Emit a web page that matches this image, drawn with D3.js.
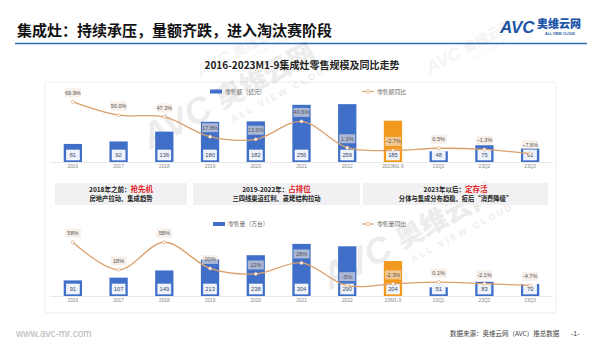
<!DOCTYPE html>
<html><head><meta charset="utf-8">
<script src="https://cdn.jsdelivr.net/npm/d3@7"></script>
<style>
html,body{margin:0;padding:0;background:#fff;}
svg{display:block;font-family:"Noto Sans CJK SC","Noto Sans",sans-serif;}
</style></head>
<body><svg id="c" width="600" height="358"></svg>
<script>
const categoriesTop = ["2016","2017","2018","2019","2020","2021","2022","2023M1-9","23Q1","23Q2","23Q3"];
const categoriesBottom = ["2016","2017","2018","2019","2020","2021","2022","23M1-9","23Q1","23Q2","23Q3"];
const retailValue = [81,92,136,180,182,256,259,185,48,75,61];
const retailValueYoY = [69.9,50.0,47.3,17.8,13.9,40.6,1.3,-2.7,0.5,-1.3,-7.6];
const retailVolume = [91,107,149,213,238,304,290,204,51,83,70];
const retailVolumeYoY = [58,18,58,20,12,28,-5,-2.3,0.1,-2.1,-4.7];
const highlightIndex = 7;
const stageTitles = ["2018年之前：","2019-2022年：","2023年以后："];
const stageKeys = ["抢先机","占排位","定存活"];
const stageNotes = ["房地产拉动、集成趋势","三四线渠道红利、蒸烤结构拉动","分体与集成分布趋稳、疫后“消费降级”"];

const svg = d3.select("#c");
const CJK = '"Noto Sans CJK SC","Noto Sans",sans-serif';
const BLUE = "#3f6fc8", ORANGE = "#f29a1f", LINE = "#dba06c";

// watermarks
function watermark(x, y, s, op) {
  const g = svg.append("g").attr("transform", `translate(${x},${y}) rotate(-28) scale(${s})`).attr("opacity", op);
  g.append("text").attr("x", 0).attr("y", 0).attr("font-size", 40).attr("font-weight", 900)
    .attr("font-style", "italic").attr("fill", "#000").attr("font-family", "Arial,sans-serif").text("AVC");
  g.append("text").attr("x", 92).attr("y", -2).attr("font-size", 30).attr("font-weight", 900)
    .attr("fill", "#000").attr("font-family", CJK).text("奥维云网");
  g.append("text").attr("x", 96).attr("y", 16).attr("font-size", 10).attr("font-weight", 700)
    .attr("fill", "#000").attr("font-family", "Arial,sans-serif").attr("letter-spacing", 3).text("ALL VIEW CLOUD");
}

// Title
svg.append("text").attr("x", 17).attr("y", 36).attr("font-size", 15).attr("font-weight", 700)
  .attr("fill", "#111").attr("font-family", CJK).text("集成灶：持续承压，量额齐跌，进入淘汰赛阶段");
svg.append("line").attr("x1", 15).attr("x2", 587).attr("y1", 43.5).attr("y2", 43.5)
  .attr("stroke", "#2f6db3").attr("stroke-width", 1.6);

// Logo
svg.append("text").attr("x", 500).attr("y", 33).attr("font-size", 17).attr("font-weight", 900)
  .attr("font-style", "italic").attr("fill", "#1d56a8").attr("font-family", "Liberation Sans,Arial,sans-serif").text("AVC");
svg.append("text").attr("x", 537).attr("y", 28).attr("font-size", 11).attr("font-weight", 900)
  .attr("fill", "#1d56a8").attr("font-family", CJK).text("奥维云网");
svg.append("text").attr("x", 545).attr("y", 34.5).attr("font-size", 3.5).attr("font-weight", 700)
  .attr("fill", "#1d56a8").attr("font-family", "Arial,sans-serif").text("ALL VIEW CLOUD");

// Subtitle
svg.append("text").attr("x", 302).attr("y", 69).attr("text-anchor", "middle").attr("font-size", 10)
  .attr("font-weight", 700).attr("fill", "#222").attr("font-family", CJK).text("2016-2023M1-9集成灶零售规模及同比走势");

// Panel
svg.append("rect").attr("x", 45).attr("y", 82).attr("width", 511).attr("height", 231)
  .attr("fill", "#fff").attr("stroke", "#ececec").attr("stroke-width", 1).attr("rx", 2);

watermark(150, 150, 0.9, 0.07);
watermark(330, 290, 0.9, 0.07);
watermark(200, 78, 0.45, 0.04);
watermark(430, 74, 0.45, 0.04);

const x = d3.scaleBand().domain(d3.range(categoriesTop.length)).range([50, 553]).paddingInner(0.6).paddingOuter(0.3);

function drawChart(opts) {
  const { cats, bars, yoy, yBar, yLine, base, legendBarX, legendY, barLabel, lineLabel, fmt } = opts;
  const g = svg.append("g");
  g.append("line").attr("x1", 50).attr("x2", 553).attr("y1", base + 0.5).attr("y2", base + 0.5)
    .attr("stroke", "#e2e2e2").attr("stroke-width", 0.8);
  g.selectAll("rect.bar").data(bars).join("rect").attr("class", "bar")
    .attr("x", (d, i) => x(i)).attr("width", x.bandwidth())
    .attr("y", d => yBar(d)).attr("height", d => base - yBar(d))
    .attr("fill", (d, i) => i === highlightIndex ? ORANGE : BLUE);
  const vl = g.selectAll("g.vl").data(bars).join("g").attr("class", "vl")
    .attr("transform", (d, i) => `translate(${x(i) + x.bandwidth() / 2},${base - 7})`);
  vl.append("rect").attr("x", -6.5).attr("y", -5).attr("width", 13).attr("height", 10)
    .attr("fill", "#eef2fa").attr("stroke", "#fff").attr("stroke-width", 0.6);
  vl.append("text").attr("y", 2).attr("text-anchor", "middle").attr("font-size", 5.8)
    .attr("fill", "#3a4a6a").attr("font-family", "Liberation Sans,Arial,sans-serif").text(d => d);
  const axis = d3.axisBottom(x).tickSize(0).tickPadding(3).tickFormat(i => cats[i]);
  const ax = g.append("g").attr("transform", `translate(0,${base})`).call(axis);
  ax.select(".domain").remove();
  ax.selectAll("text").attr("font-size", 4.8).attr("fill", "#888").attr("font-family", "Liberation Sans,Arial,sans-serif");
  const lineGen = d3.line().x((d, i) => x(i) + x.bandwidth() / 2).y(d => yLine(d)).curve(d3.curveCatmullRom.alpha(0.5));
  g.append("path").datum(yoy).attr("d", lineGen).attr("fill", "none").attr("stroke", LINE).attr("stroke-width", 1.3);
  g.selectAll("circle.pt").data(yoy).join("circle").attr("class", "pt")
    .attr("cx", (d, i) => x(i) + x.bandwidth() / 2).attr("cy", d => yLine(d)).attr("r", 1.6)
    .attr("fill", "#fff").attr("stroke", LINE).attr("stroke-width", 0.6);
  const pl = g.selectAll("g.pl").data(yoy).join("g").attr("class", "pl")
    .attr("transform", (d, i) => `translate(${x(i) + x.bandwidth() / 2},${yLine(d) - 9})`);
  pl.append("rect").attr("x", -8).attr("y", -4.5).attr("width", 16).attr("height", 9)
    .attr("fill", "#f2e6dc").attr("opacity", 0.6);
  pl.append("text").attr("y", 2).attr("text-anchor", "middle").attr("font-size", 5.6)
    .attr("fill", "#555").attr("font-family", "Liberation Sans,Arial,sans-serif").text(fmt);
  g.append("rect").attr("x", legendBarX).attr("y", legendY - 2).attr("width", 12).attr("height", 4).attr("fill", BLUE);
  g.append("text").attr("x", legendBarX + 15).attr("y", legendY + 2).attr("font-size", 5.8).attr("fill", "#666")
    .attr("font-family", CJK).text(barLabel);
  g.append("line").attr("x1", 362).attr("x2", 374).attr("y1", legendY).attr("y2", legendY).attr("stroke", LINE).attr("stroke-width", 1.2);
  g.append("circle").attr("cx", 368).attr("cy", legendY).attr("r", 1.8).attr("fill", "#fff").attr("stroke", LINE).attr("stroke-width", 0.7);
  g.append("text").attr("x", 377).attr("y", legendY + 2).attr("font-size", 5.8).attr("fill", "#666")
    .attr("font-family", CJK).text(lineLabel);
}

drawChart({
  cats: categoriesTop, bars: retailValue, yoy: retailValueYoY,
  yBar: d3.scaleLinear().domain([0, 300]).range([162, 95]),
  yLine: d3.scaleLinear().domain([-20, 80]).range([162, 95]),
  base: 162, legendBarX: 210, legendY: 91.5,
  barLabel: "零售额（亿元）", lineLabel: "零售额同比",
  fmt: d => d3.format(".1f")(d) + "%"
});

drawChart({
  cats: categoriesBottom, bars: retailVolume, yoy: retailVolumeYoY,
  yBar: d3.scaleLinear().domain([0, 350]).range([296, 236]),
  yLine: d3.scaleLinear().domain([-20, 70]).range([296, 234]),
  base: 296, legendBarX: 213, legendY: 224,
  barLabel: "零售量（万台）", lineLabel: "零售量同比",
  fmt: d => (Number.isInteger(d) ? d : d.toFixed(1)) + "%"
});

const stageX = [55, 193, 363], stageW = [132, 167, 185];
stageTitles.forEach((t, i) => {
  const cx = stageX[i] + stageW[i] / 2;
  svg.append("rect").attr("x", stageX[i]).attr("y", 183).attr("width", stageW[i]).attr("height", 22).attr("fill", "#f1f1f3");
  const t1 = svg.append("text").attr("x", cx).attr("y", 192).attr("text-anchor", "middle")
    .attr("font-size", 6.5).attr("font-weight", 700).attr("font-family", CJK).attr("fill", "#222");
  t1.append("tspan").text(t);
  t1.append("tspan").attr("fill", "#e0201b").attr("font-size", 7.5).text(stageKeys[i]);
  svg.append("text").attr("x", cx).attr("y", 200.5).attr("text-anchor", "middle")
    .attr("font-size", 6.3).attr("font-weight", 700).attr("font-family", CJK).attr("fill", "#222").text(stageNotes[i]);
});

svg.append("text").attr("x", 16).attr("y", 337).attr("font-size", 10).attr("fill", "#b5b5b5")
  .attr("font-family", "Liberation Sans,Arial,sans-serif").text("www.avc-mr.com");
svg.append("text").attr("x", 450).attr("y", 336).attr("font-size", 6.5).attr("fill", "#444")
  .attr("font-family", CJK).text("数据来源：奥维云网（AVC）推总数据");
svg.append("text").attr("x", 571).attr("y", 336).attr("font-size", 7).attr("fill", "#444")
  .attr("font-family", "Liberation Sans,Arial,sans-serif").text("-1-");
</script></body></html>
